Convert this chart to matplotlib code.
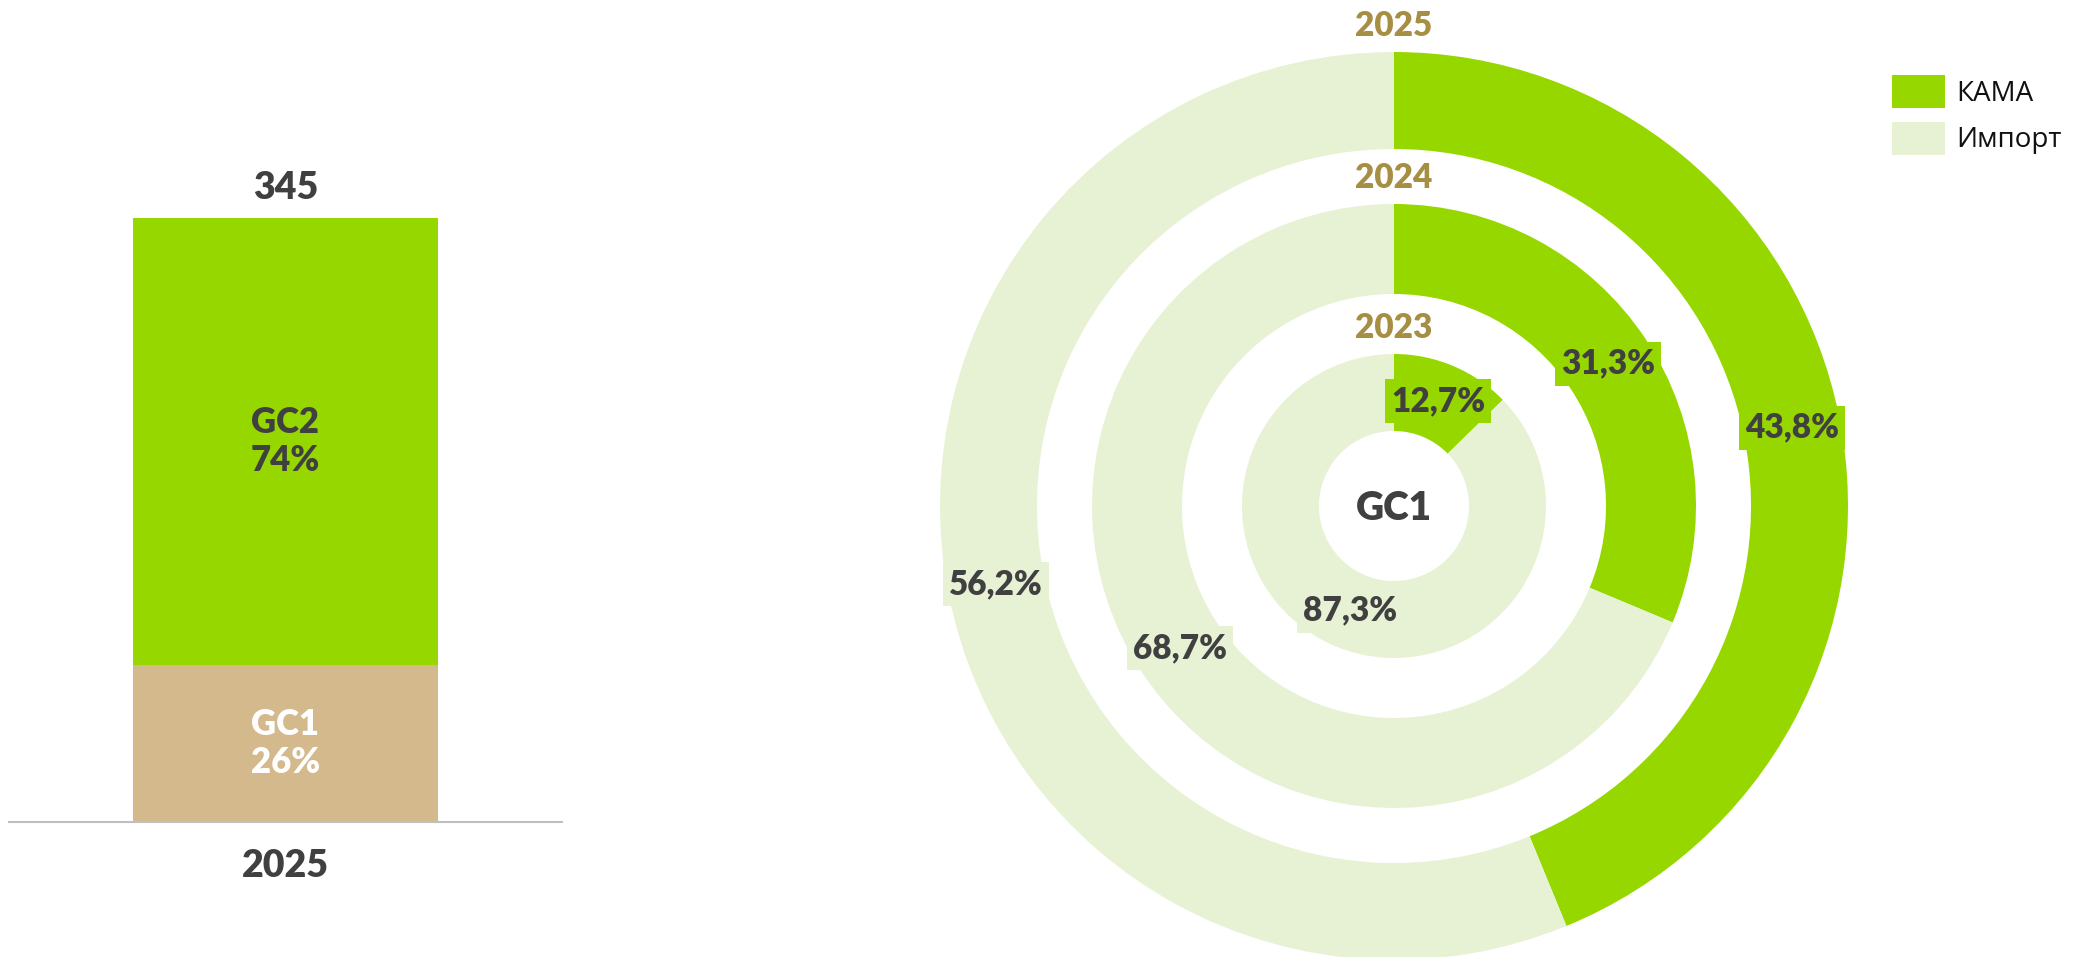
import matplotlib
matplotlib.use("Agg")
import matplotlib.pyplot as plt
import numpy as np

# ---------------- data ----------------
bar_year = "2025"
bar_total = 345
bar_segments = ["GC1", "GC2"]
bar_shares = [26, 74]

ring_years = ["2023", "2024", "2025"]
kama_share = [12.7, 31.3, 43.8]
import_share = [87.3, 68.7, 56.2]
legend_labels = ["КАМА", "Импорт"]
center_label = "GC1"

# ---------------- style ----------------
GREEN = "#97D700"
LIGHT = "#E7F2D5"
TAN = "#D4B98C"
DARK = "#404040"
YEARC = "#A68E42"
FONT = "Lato"
WT = "heavy"

W, H = 2081, 957
fig = plt.figure(figsize=(W / 100, H / 100), dpi=100)

# ---------------- stacked bar ----------------
base_px = 822
top_px = 218
axh = 700
bar_ax = fig.add_axes([9 / W, (H - base_px) / H, 553 / W, axh / H])
scale = bar_total / (base_px - top_px)
bar_ax.set_ylim(0, axh * scale)
bar_ax.set_xlim(-0.5, 0.5)

vals = [bar_total * s / 100 for s in bar_shares]
colors = [TAN, GREEN]
txtc = ["white", DARK]
bottom = 0
for seg, v, s, c, tc in zip(bar_segments, vals, bar_shares, colors, txtc):
    bar_ax.bar(0, v, bottom=bottom, width=0.553, color=c, edgecolor="none")
    bar_ax.text(0, bottom + v / 2, f"{seg}\n{s}%", ha="center", va="center",
                color=tc, fontsize=25, fontweight=WT, family=FONT,
                linespacing=1.15)
    bottom += v

bar_ax.annotate(str(bar_total), (0, bar_total), xytext=(0, 30),
                textcoords="offset pixels", ha="center", va="center",
                fontsize=27, fontweight=WT, color=DARK, family=FONT)
bar_ax.annotate(bar_year, (0, 0), xytext=(0, -44),
                textcoords="offset pixels", ha="center", va="center",
                fontsize=27, fontweight=WT, color=DARK, family=FONT,
                annotation_clip=False)
for sp in ["top", "left", "right"]:
    bar_ax.spines[sp].set_visible(False)
bar_ax.spines["bottom"].set_color("#BFBFBF")
bar_ax.spines["bottom"].set_linewidth(1.5)
bar_ax.set_xticks([])
bar_ax.set_yticks([])
bar_ax.patch.set_alpha(0)

# ---------------- nested doughnut ----------------
cx, cy = 1394, H - 506
half = 480
dax = fig.add_axes([(cx - half) / W, (cy - half) / H, 2 * half / W, 2 * half / H])
outer_r = [152, 302, 454]
inner_r = [75, 212, 357]

for yr, k, imp, ro, ri in zip(ring_years, kama_share, import_share, outer_r, inner_r):
    dax.pie([k, imp], radius=ro, startangle=90, counterclock=False,
            colors=[GREEN, LIGHT],
            wedgeprops=dict(width=ro - ri, edgecolor="none", linewidth=0))
    # labels at wedge mid-angle, mid-radius
    rm = (ro + ri) / 2
    start = 90.0
    for val, col in zip([k, imp], [GREEN, LIGHT]):
        sweep = val / 100 * 360
        mid = np.deg2rad(start - sweep / 2)
        start -= sweep
        lab = f"{val:.1f}".replace(".", ",") + "%"
        dax.text(rm * np.cos(mid), rm * np.sin(mid), lab, ha="center", va="center",
                 fontsize=24, fontweight=WT, color=DARK, family=FONT,
                 bbox=dict(boxstyle="square,pad=0.18", fc=col, ec="none"))
    dax.text(0, ro + 26, yr, ha="center", va="center", fontsize=24,
             fontweight=WT, color=YEARC, family=FONT)

dax.text(0, -2, center_label, ha="center", va="center", fontsize=28,
         fontweight=WT, color=DARK, family=FONT)
dax.set_xlim(-half, half)
dax.set_ylim(-half, half)
dax.set_aspect("equal")
dax.axis("off")

# ---------------- legend ----------------
from matplotlib.patches import Patch
handles = [Patch(facecolor=GREEN, edgecolor="none"), Patch(facecolor=LIGHT, edgecolor="none")]
fig.legend(handles, legend_labels, loc="upper left",
           bbox_to_anchor=(1892 / W, 1 - 75 / H), frameon=False,
           borderpad=0, borderaxespad=0, handlelength=1.9, handleheight=1.44,
           handletextpad=0.43, labelspacing=0.5,
           prop=dict(family="Open Sans", size=20), labelcolor="#111111")

fig.savefig("out.png", dpi=100)
